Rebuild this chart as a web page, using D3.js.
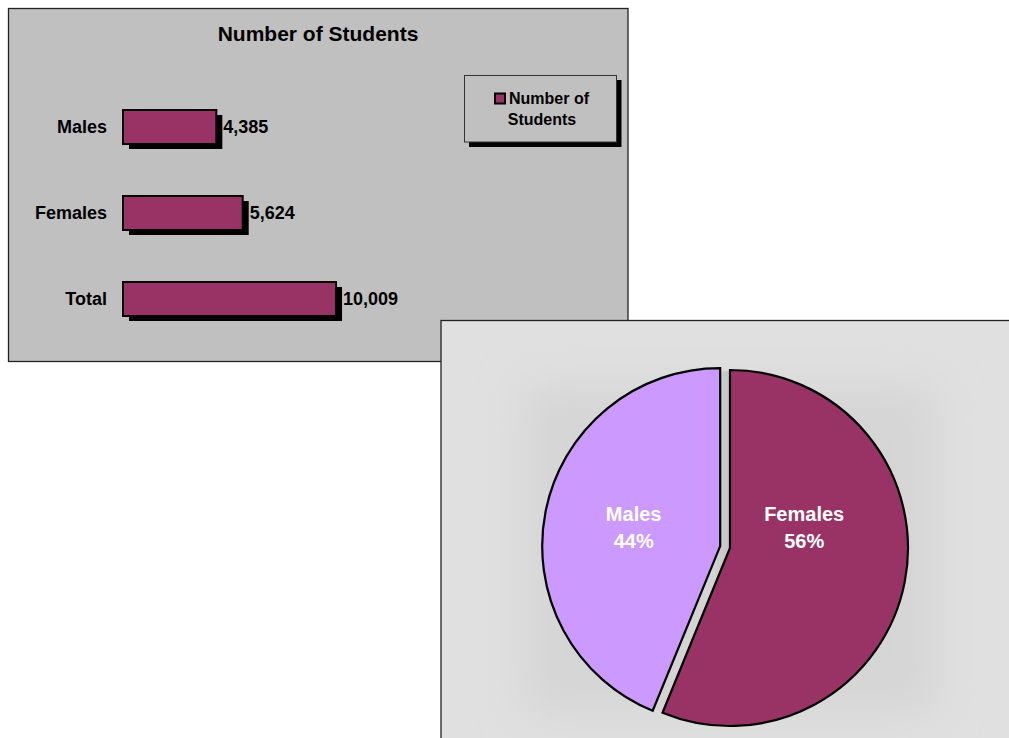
<!DOCTYPE html>
<html>
<head>
<meta charset="utf-8">
<script src="https://cdn.jsdelivr.net/npm/d3@7"></script>
<style>
  html, body { margin: 0; padding: 0; background: #ffffff; }
  svg { display: block; font-family: "Liberation Sans", Arial, Helvetica, sans-serif; font-weight: bold; }
</style>
</head>
<body>
<svg id="chart" width="1009" height="738"></svg>
<script>
// Student counts
const categories = ["Males", "Females", "Total"];
const counts = [4385, 5624, 10009];
const chartTitle = "Number of Students";
const legendLines = ["Number of", "Students"];

// Pie breakdown (drawn clockwise from 12 o'clock)
const pieCategories = ["Females", "Males"];
const pieValues = [5624, 4385];
const pieColors = ["#993366", "#cc99ff"];
const explodedSlice = "Males";

const barColor = "#993366";

const svg = d3.select("#chart");
const defs = svg.append("defs");

/* ---------- Bar chart panel ---------- */
const barPanel = svg.append("g");
barPanel.append("rect")
  .attr("x", 8.5).attr("y", 8.5).attr("width", 619.5).attr("height", 353)
  .attr("fill", "#c0c0c0").attr("stroke", "#222").attr("stroke-width", 1.3);

barPanel.append("text")
  .attr("x", 318).attr("y", 40.5)
  .attr("text-anchor", "middle").attr("font-size", 21).attr("fill", "#000")
  .text(chartTitle);

const y = d3.scaleBand().domain(categories).range([67, 359]).paddingInner(0.605).paddingOuter(0.5);
const x = d3.scaleLinear().domain([0, 12000]).range([123, 378.4]);
const fmt = d3.format(",");

const bars = barPanel.selectAll("g.bar").data(categories.map((c, i) => ({ c, v: counts[i] })))
  .join("g").attr("class", "bar");

// drop shadow
bars.append("rect")
  .attr("x", d => x(0) + 6).attr("y", d => y(d.c) + 5)
  .attr("width", d => x(d.v) - x(0)).attr("height", y.bandwidth())
  .attr("fill", "#000");

bars.append("rect")
  .attr("x", x(0)).attr("y", d => y(d.c))
  .attr("width", d => x(d.v) - x(0)).attr("height", y.bandwidth())
  .attr("fill", barColor).attr("stroke", "#000").attr("stroke-width", 2);

bars.append("text")
  .attr("x", d => x(d.v) + 7).attr("y", d => y(d.c) + y.bandwidth() / 2)
  .attr("dy", "0.36em").attr("font-size", 18).attr("fill", "#000")
  .text(d => fmt(d.v));

bars.append("text")
  .attr("x", 107).attr("y", d => y(d.c) + y.bandwidth() / 2)
  .attr("dy", "0.36em").attr("text-anchor", "end").attr("font-size", 18).attr("fill", "#000")
  .text(d => d.c);

// legend
const legend = barPanel.append("g");
legend.append("rect").attr("x", 469).attr("y", 80).attr("width", 152.5).attr("height", 67).attr("fill", "#000");
legend.append("rect").attr("x", 464.5).attr("y", 75.5).attr("width", 152).attr("height", 66.5)
  .attr("fill", "#c0c0c0").attr("stroke", "#333").attr("stroke-width", 1);
legend.append("rect").attr("x", 495).attr("y", 93.5).attr("width", 10).attr("height", 10)
  .attr("fill", barColor).attr("stroke", "#000").attr("stroke-width", 2);
legend.append("text").attr("x", 509).attr("y", 104).attr("font-size", 16).attr("fill", "#000").text(legendLines[0]);
legend.append("text").attr("x", 542).attr("y", 125).attr("text-anchor", "middle").attr("font-size", 16).attr("fill", "#000").text(legendLines[1]);

/* ---------- Pie chart panel ---------- */
const piePanel = svg.append("g");
const blur = defs.append("filter").attr("id", "soft").attr("x", "-30%").attr("y", "-30%").attr("width", "160%").attr("height", "160%");
blur.append("feGaussianBlur").attr("stdDeviation", 22);

const gapGrad = defs.append("linearGradient").attr("id", "gapGrad")
  .attr("x1", "0").attr("y1", "0").attr("x2", "1").attr("y2", "0");
gapGrad.append("stop").attr("offset", "0.45").attr("stop-color", "#d4d4d4");
gapGrad.append("stop").attr("offset", "0.55").attr("stop-color", "#b4b4b4");

piePanel.append("rect")
  .attr("x", 441).attr("y", 320.5).attr("width", 620).attr("height", 470)
  .attr("fill", "#e0e0e0").attr("stroke", "#222").attr("stroke-width", 1.3);

// soft shading behind the plot area
piePanel.append("rect")
  .attr("x", 525).attr("y", 385).attr("width", 410).attr("height", 330)
  .attr("fill", "#d5d5d5").attr("filter", "url(#soft)");

const cx = 730, cy = 548, r = 178, explode = 10;
const pie = d3.pie().sort(null).startAngle(0).endAngle(2 * Math.PI);
const arcs = pie(pieValues).map((a, i) => Object.assign(a, { name: pieCategories[i], color: pieColors[i] }));
const total = d3.sum(pieValues);
const arc = d3.arc().innerRadius(0).outerRadius(r);
const labelArc = d3.arc().innerRadius(84).outerRadius(84);

const pieG = piePanel.append("g").attr("transform", `translate(${cx},${cy})`);

// shadow visible through the gap of the pulled-out slice
pieG.append("circle").attr("r", r - 1).attr("fill", "url(#gapGrad)");

const offsetOf = d => {
  if (d.name !== explodedSlice) return [0, 0];
  const m = (d.startAngle + d.endAngle) / 2;
  return [Math.sin(m) * explode, -Math.cos(m) * explode];
};

const slices = pieG.selectAll("g.slice").data(arcs).join("g").attr("class", "slice")
  .attr("transform", d => `translate(${offsetOf(d)})`);

slices.append("path").attr("d", arc)
  .attr("fill", d => d.color).attr("stroke", "#000").attr("stroke-width", 2.2).attr("stroke-linejoin", "miter");

// data labels sit at a common height above the centre
const labels = slices.append("text")
  .attr("transform", d => `translate(${labelArc.centroid(d)[0] * (d.name === explodedSlice ? 1.05 : 0.9)},${-23 - offsetOf(d)[1]})`)
  .attr("text-anchor", "middle").attr("font-size", 20).attr("fill", "#fff");
labels.append("tspan").attr("x", 0).attr("dy", "-0.2em").text(d => d.name);
labels.append("tspan").attr("x", 0).attr("dy", "1.37em").text(d => d3.format(".0%")(d.value / total));
</script>
</body>
</html>
